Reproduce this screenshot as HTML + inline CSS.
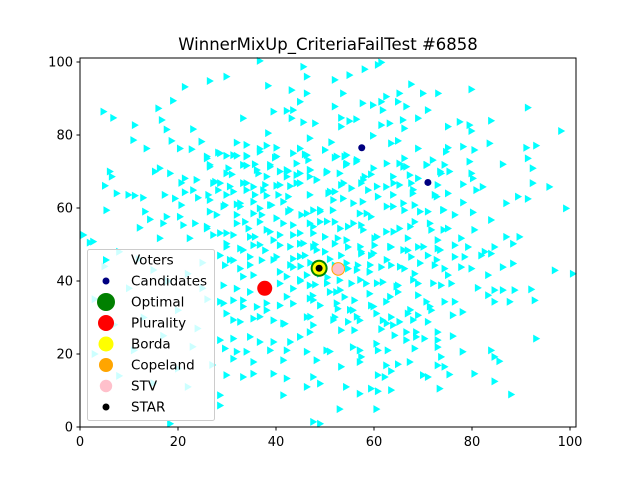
<!DOCTYPE html>
<html><head><meta charset="utf-8"><style>
html,body{margin:0;padding:0;background:#fff;}
svg{display:block;font-family:"DejaVu Sans","Liberation Sans",sans-serif;}
</style></head><body>
<svg id="chart" width="640" height="480" viewBox="0 0 640 480">
<rect width="640" height="480" fill="#fff"/>
<text x="328" y="50" font-size="16.5" text-anchor="middle">WinnerMixUp_CriteriaFailTest #6858</text>
<g id="voters"></g>
<g id="winners"></g>
<rect x="80" y="58" width="496" height="369" fill="none" stroke="#000" stroke-width="1"/>
<g id="axes"></g>
<g id="legend"></g>
</svg>
<script>
const xTicks = [0,20,40,60,80,100];
const yTicks = [0,20,40,60,80,100];
const candidateX = [57.5, 71];
const candidateY = [76.5, 67];
const winnerNames = ["Optimal","Plurality","Borda","Copeland","STV","STAR"];
const winnerX = [48.8, 37.7, 48.8, 52.7, 52.7, 48.8];
const winnerY = [43.5, 38, 43.5, 43.3, 43.3, 43.5];
const voterPoints = [
[36.7,100.3],[45.6,98.7],[46.3,96],[29.9,96],[26.5,94.8],[21.4,93.2],[38.4,93.5],[43.2,92.3],[46.3,91.4],[44.9,89.1],
[19,89.4],[16,87.3],[4.8,86.4],[6.8,84.7],[16.7,84.1],[11.2,82.7],[33.3,84.6],[39.5,86.4],[42.2,86.6],[43.5,86.8],
[43.2,84.6],[45.6,83.5],[48,83.2],[17.7,81.5],[23.1,81.6],[38.4,80.5],[46.9,79.1],[10.9,78.6],[18.7,78.4],[24.8,78.2],
[13.6,76.3],[20.4,76.3],[22.8,76.1],[32,77.9],[34,77.3],[36.7,76.2],[38.1,77.1],[40.1,76.5],[44.9,76.3],[50,75.9],
[28.2,75.2],[29.9,74.3],[32,74.3],[34,74.3],[25.9,73.6],[39.8,73.8],[45.9,74.7],[46.6,73.1],[26.5,71.8],[34,71.6],
[35.7,72],[38.8,71.3],[44.2,72.2],[6.1,70],[6.5,68.6],[16.3,70.9],[15.3,70],[18.4,69.5],[30.3,70.9],[31,69.2],
[36.4,69.5],[38.1,68.6],[40.8,70],[42.5,70.1],[46.9,70.4],[50.3,69.7],[42.2,68.6],[44.2,69],[46.9,68.6],[48.3,67.7],
[5.1,66.1],[21.4,68.1],[20.7,66.9],[23.8,67.7],[27.6,67.2],[28.6,66.8],[33.3,66.8],[35.4,65.8],[37.8,66.3],[40.1,66.1],
[42.9,66],[44.9,66.8],[7.5,64],[9.9,63.6],[11.2,63.4],[12.9,62.8],[17.3,63.6],[19.4,62.6],[21.4,64.3],[23.1,64.9],
[24.1,62.8],[26.2,63.6],[28.2,64.9],[29.9,63.6],[31.3,64.5],[34,64.9],[35.7,63.6],[38.1,63.4],[40.5,63.6],[42.5,63.1],
[46.9,63.6],[50.7,64],[5.4,59.4],[13.3,59],[14.3,56.9],[17.7,57.6],[17,55.8],[20.7,60.8],[20.4,57.6],[26.5,59],
[27.9,58.1],[29.6,60.8],[32,61],[32.7,60.4],[35.4,61.7],[36.7,59.9],[39.1,60.8],[41.5,61.7],[42.5,59],[45.2,58.1],
[47.6,59.4],[49,59],[32,58.1],[37.1,58.1],[40.1,57.2],[12.2,54.6],[21.1,55.3],[23.5,55.8],[25.9,54.4],[29.9,53.1],
[33.7,56.2],[34.4,54.4],[36.7,56.2],[38.8,53.5],[43.5,55.3],[46.9,55.8],[49,56.2],[0.7,52.6],[2.7,50.8],[16.3,51.7],
[22.4,51.7],[27.2,52.6],[31.3,52.6],[35.7,52.1],[40.8,52.6],[43.5,52.6],[47.6,53.1],[50,52.1],
[61.5,99.9],[60.8,99.2],[58.1,98],[55,96.4],[52,95.1],[67.6,93.9],[79.9,92.5],[53.7,91.4],[65.2,91.4],[70,91.4],
[73.1,91.4],[62.5,90.5],[57.7,88.7],[59.8,88.2],[61.5,89.1],[64.9,89.1],[66.6,87.8],[71,86.8],[52,87.8],[91.4,87.5],
[61.8,86.8],[53.3,84.7],[55,83.8],[56.4,84.3],[53.3,82.3],[61.5,82.7],[63.2,83.2],[65.9,84.1],[69,84.6],[66.2,81.8],
[75.1,82.3],[77.5,83.6],[79.5,82.7],[79.9,81.1],[83.9,83.9],[98.2,81.1],[59.8,79.8],[63.5,77.7],[64.9,78.4],[51.3,78],
[69,76.3],[75.1,76.5],[74.7,75.4],[78.2,76.8],[80.5,75.9],[83.6,77.7],[91.1,76.5],[93.1,77.1],[52,73.8],[54,74.1],
[54.3,71.8],[56.4,72.7],[66.2,73.6],[65.2,72.2],[66.6,71.3],[70.7,71.8],[72,73.1],[74.4,71.8],[79.5,72.7],[86.3,72],
[91.4,73.6],[92.4,70.9],[53,69.5],[73.7,69.5],[75.4,70],[79.9,69.5],[80.2,68.1],[58.1,68.6],[59.4,69.2],[63.9,68.6],
[67.3,69],[69,68.1],[53.3,66.3],[55.4,65.4],[57.4,66.8],[58.8,64.9],[62.5,65.8],[65.2,66.3],[67.6,66.8],[73,66.3],
[78.2,66.5],[80.9,64.9],[82.2,65.8],[92.4,66.8],[95.8,65.8],[52,64.5],[53.7,62.6],[57.7,61.7],[60.8,63.1],[63.9,63.6],
[67.9,64],[72.4,63.6],[75.1,64],[78.2,61.5],[87,61.3],[89.4,63.1],[91.4,62.5],[99.2,59.9],[51.6,59.4],[57.1,58.5],
[59.4,57.6],[63.9,60.4],[66.2,59.4],[68.3,60.8],[71,59],[74.1,59.4],[76.5,58.1],[80.2,58.8],[83.9,56.7],[52,56.2],
[54.7,54.9],[57.4,55.3],[62.5,53.5],[65.2,54.4],[68.3,56.2],[71.7,54],[75.1,54.4],[80.5,54],[87,52.1],[89.7,52.1],
[52.6,51.7],[60.1,51.7],[66.9,51.7],[73,51.2],[77.8,51.7],
[29.9,50.2],[32.7,48.9],[35.4,49.8],[37.8,48.4],[40.8,49.8],[44.9,50.2],[47.6,49.3],[28.6,47],[31.3,45.7],[34.7,46.6],
[37.1,45.7],[40.1,46.6],[43.5,46.1],[45.9,47],[29.6,44.3],[32.7,43.4],[35.4,41.6],[40.8,42.5],[43.5,43.8],[46.3,41.6],
[49,42],[29.3,38.8],[32,37.9],[34.7,37],[40.8,39.3],[43.5,37.9],[46.9,38.8],[28.6,34.3],[31.3,34.7],[33.3,34.7],
[36.1,32.9],[38.1,32],[40.8,33.3],[43.5,33.8],[46.9,35.2],[49,33.3],[29.9,31.1],[32.7,28.8],[35.4,29.7],[39.5,29.2],
[41.8,28.3],[46.3,30.1],[47.6,27.9],[28.6,23.8],[31.3,24.2],[34.7,24.7],[36.7,23.3],[39.5,23.3],[42.9,23.3],[44.9,24.7],
[46.9,26],[29.6,21.5],[32,20.6],[34,20.6],[38.8,21],[42.2,21],[46.3,20.6],[50.3,21],[31.3,18.7],[35.4,17.8],
[41.5,18.3],[48.3,18.3],[29.9,14.2],[33.3,13.7],[35.4,14.6],[39.5,14.6],[42.2,13.3],[46.3,11],[47.6,13.7],[49,11.9],
[28.6,8.7],[41.5,8.7],[28.6,5.9],[18.4,0.9],[47.6,1.4],[49,0.9],
[2,50.5],[8,48],[5,44],[12,46],[15,43],[3,35],[10,38],[18,40],[22,42],[25,38],[13,30],[20,32],[7,28],[17,25],
[24,27],[3,20],[11,21],[20,16],[15,12],[22,11],[8,14],[27,17],[25,45],[26,35],[23,22],
[52,50.2],[54.7,49.3],[57.4,48],[60.1,49.8],[63.5,49.3],[66.9,48.4],[69,49.3],[73,48.9],[76.5,49.8],[79.2,49.3],
[82.6,48],[84.6,49.3],[88.4,50.2],[53.3,47],[57.4,47.5],[59.4,47],[67.6,46.6],[71,47],[76.5,46.6],[78.5,46.6],
[81.9,47],[83.9,47.5],[52,44.3],[54.7,43.4],[56.7,44.3],[59.1,42.5],[61.5,43.8],[63.5,44.3],[66.2,43.4],[68.3,42],
[72.4,44.3],[74.4,43.4],[75.1,41.6],[77.8,43.8],[79.9,43.4],[83.3,41.6],[86.3,43.8],[88.4,44.8],[96.9,42.9],[100.6,42],
[53,40.2],[55.4,39.3],[58.4,39.3],[61.8,39.7],[64.9,38.8],[69,39.3],[73.7,38.8],[75.8,39.3],[81.2,38.1],[83.3,36.1],
[84.6,37.5],[86.3,37.5],[88.7,37.5],[92.1,37.7],[92.8,34.7],[52.3,37],[54,35.6],[56,34.7],[59.1,36.5],[62.5,34.3],
[64.9,37],[69,36.1],[70.7,34.3],[74.4,34.3],[76.5,34.3],[84.6,34.3],[87.7,34.3],[52.6,32.4],[55.7,32],[59.4,33.3],
[60.5,31.1],[66.9,31.1],[69,30.6],[71.7,32],[78.1,31.5],[52,30.1],[54.7,28.8],[57.1,29.2],[61.8,29.2],[63.5,30.1],
[65.2,28.8],[71,28.8],[76.1,30.6],[53.3,26.5],[56,26.5],[61.5,26.8],[64.2,25.1],[66.6,26],[68.6,26],[73,26],
[63.9,27.9],[66.6,23.8],[68.6,24.7],[70.3,24.2],[73,23.8],[76.1,24.9],[93.1,24.2],[55.7,21.9],[57.1,21],[60.5,22.8],
[60.8,21],[62.8,21],[68.3,21.5],[73,21.9],[78.1,20.6],[83.9,21],[51,20.7],[57.4,19.2],[73.7,19.2],[84.6,19.2],
[85.6,18],[53.3,16.5],[57.1,17.8],[62.5,16.9],[64.9,17.2],[67.3,17.8],[73,16.9],[74.4,16.5],[60.8,14.2],[62.2,13.7],
[63.5,15.3],[70,14.2],[71,13.7],[75.4,14.4],[80.5,14.6],[84.6,12.5],[54.3,11],[57.1,9.1],[59.4,10.5],[60.8,9.8],
[63.5,10.1],[73.4,10.5],[88,8.9],[53,4.9],[60.5,4.9],
[48,50],[50,48],[51,46],[47,45],[45,44],[50.5,41],[48,39],[51,37],[45,40],[47.5,36],
[25.9,74.1],[28.6,75],[31.3,74.5],[34,74.1],[36.7,75.4],[40.1,74.1],[43.5,75],[46.3,74.5],[52.4,74.1],[54.4,74.5],
[56.5,73.2],[26.5,71.3],[29.9,69.5],[33.3,71.8],[36.1,70.4],[38.8,71.8],[42.2,70.4],[44.9,69.5],[47,70.4],[50.4,70],
[54.4,72.2],[59.9,70.9],[62.6,72.2],[66,71.3],[70.8,71.8],[73.5,70],[27.2,66.8],[30.6,65.9],[34,66.8],[37.4,64.9],
[40.8,66.3],[44.2,66.8],[48.3,67.7],[51,64.5],[53.8,66.8],[57.8,67.7],[60.6,65.9],[64,66.8],[68,65],[72.8,63.1],
[26.5,62.2],[29.3,60.4],[32.7,61.3],[35.4,58.5],[38.8,60.8],[42.9,59.5],[46.3,58.5],[49,59.5],[51.7,62.2],[55.8,61.3],
[58.5,58.5],[62.6,60.4],[66,61.3],[69.4,59],[74.2,59.5],[25.9,54.9],[28.6,53.1],[32,55.8],[34.7,52.1],[38.1,54],
[41.5,55.8],[44.9,53.1],[47.6,54.9],[50.4,56.3],[53.1,54.4],[55.8,55.8],[57.8,54],[60.6,52.1],[64,53.5],[67.4,54.9],
[71.4,55.8],[74.2,54],[29.9,49.4],[33.3,48.5],[36.7,49.9],[39.5,51.2],[42.9,49.4],[45.6,50.3],[48.3,48.5],[54.4,51.2],
[57.2,49.4],[59.9,47.6],[63.3,49.4],[66,48.5],[70.1,49.4],[73.5,48.5],[30.6,45.8],[34.7,44.4],[39.5,45.8],[42.9,44.4],
[44.9,46.7],[54.4,44.9],[56.5,43],[59.2,44.4],[62.6,45.8],[65.3,43.9],[69.4,44.9],[72.8,45.8],[33.3,41.2],[42.2,41.2],
[44.9,40.3],[50.4,39.4],[53.1,37.5],[57.2,40.3],[60.6,39.4],[64.6,38.5],[68,40.3],[72.1,39.4],[29.3,33.9],[33.3,33],
[38.1,33.9],[42.2,35.7],[47.6,34.8],[52.4,33.9],[55.1,32.1],[59.9,33],[63.3,35.7],[67.4,32.1],[71.4,33],[31.3,29.3],
[36.7,30.2],[41.5,28.4],[47,30.2],[51.7,29.3],[56.5,30.2],[62.6,28.4],[68,29.3]
];
const NS = "http://www.w3.org/2000/svg";
const X = v => 80 + v * 4.9;
const Y = v => 427 - v * 3.65;
function mk(tag, attrs, parent){const e=document.createElementNS(NS,tag);for(const k in attrs)e.setAttribute(k,attrs[k]);parent.appendChild(e);return e;}
function tri(cx,cy,s){return `${cx-s*0.75},${cy-s} ${cx+s},${cy} ${cx-s*0.75},${cy+s}`;}
const vg = document.getElementById('voters');
voterPoints.forEach(p=>{
  const t = mk('polygon',{points:tri(X(p[0]),Y(p[1]),4),fill:'#00ffff'},vg);
  
  
});
const wg = document.getElementById('winners');
candidateX.forEach((cx,i)=>{
  const c = mk('circle',{cx:X(cx),cy:Y(candidateY[i]),r:3.5,fill:'#000080'},wg);
  
  
});
const wStyle = {Optimal:['#008000',8.5],Plurality:['#ff0000',7.5],Borda:['#ffff00',6.5],Copeland:['#ffa500',6.8],STV:['#ffc0cb',5.8],STAR:['#000000',3.5]};
const legR = {Optimal:9,Plurality:8,Borda:7.5,Copeland:7,STV:6.2,STAR:3.5};
winnerNames.forEach((n,i)=>{
  const c = mk('circle',{cx:X(winnerX[i]),cy:Y(winnerY[i]),r:wStyle[n][1],fill:wStyle[n][0]},wg);
  
  
});
const ag = document.getElementById('axes');
xTicks.forEach(v=>{
  mk('line',{x1:X(v),x2:X(v),y1:427,y2:430.5,stroke:'#000'},ag);
  const t = mk('text',{x:X(v),y:446,'font-size':13,'text-anchor':'middle'},ag);
  t.textContent = v;
  
  
});
yTicks.forEach(v=>{
  mk('line',{x1:76.5,x2:80,y1:Y(v),y2:Y(v),stroke:'#000'},ag);
  const t = mk('text',{x:73,y:Y(v)+4.5,'font-size':13,'text-anchor':'end'},ag);
  t.textContent = v;
  
  
});
const lg = document.getElementById('legend');
mk('rect',{x:87.5,y:249.5,width:127,height:171,rx:2,fill:'#fff','fill-opacity':0.8,stroke:'#ccc'},lg);
const labels = ["Voters","Candidates"].concat(winnerNames);
labels.forEach((n,i)=>{
  const cy = 260 + i*21;
  if(i===0) mk('polygon',{points:tri(106,cy,4),fill:'#00ffff'},lg);
  else if(i===1) mk('circle',{cx:106,cy:cy,r:3.5,fill:'#000080'},lg);
  else mk('circle',{cx:106,cy:cy,r:legR[n],fill:wStyle[n][0]},lg);
  const t = mk('text',{x:131,y:cy+4.5,'font-size':13.5},lg);
  t.textContent = n;
  
  
});
</script>
</body></html>
